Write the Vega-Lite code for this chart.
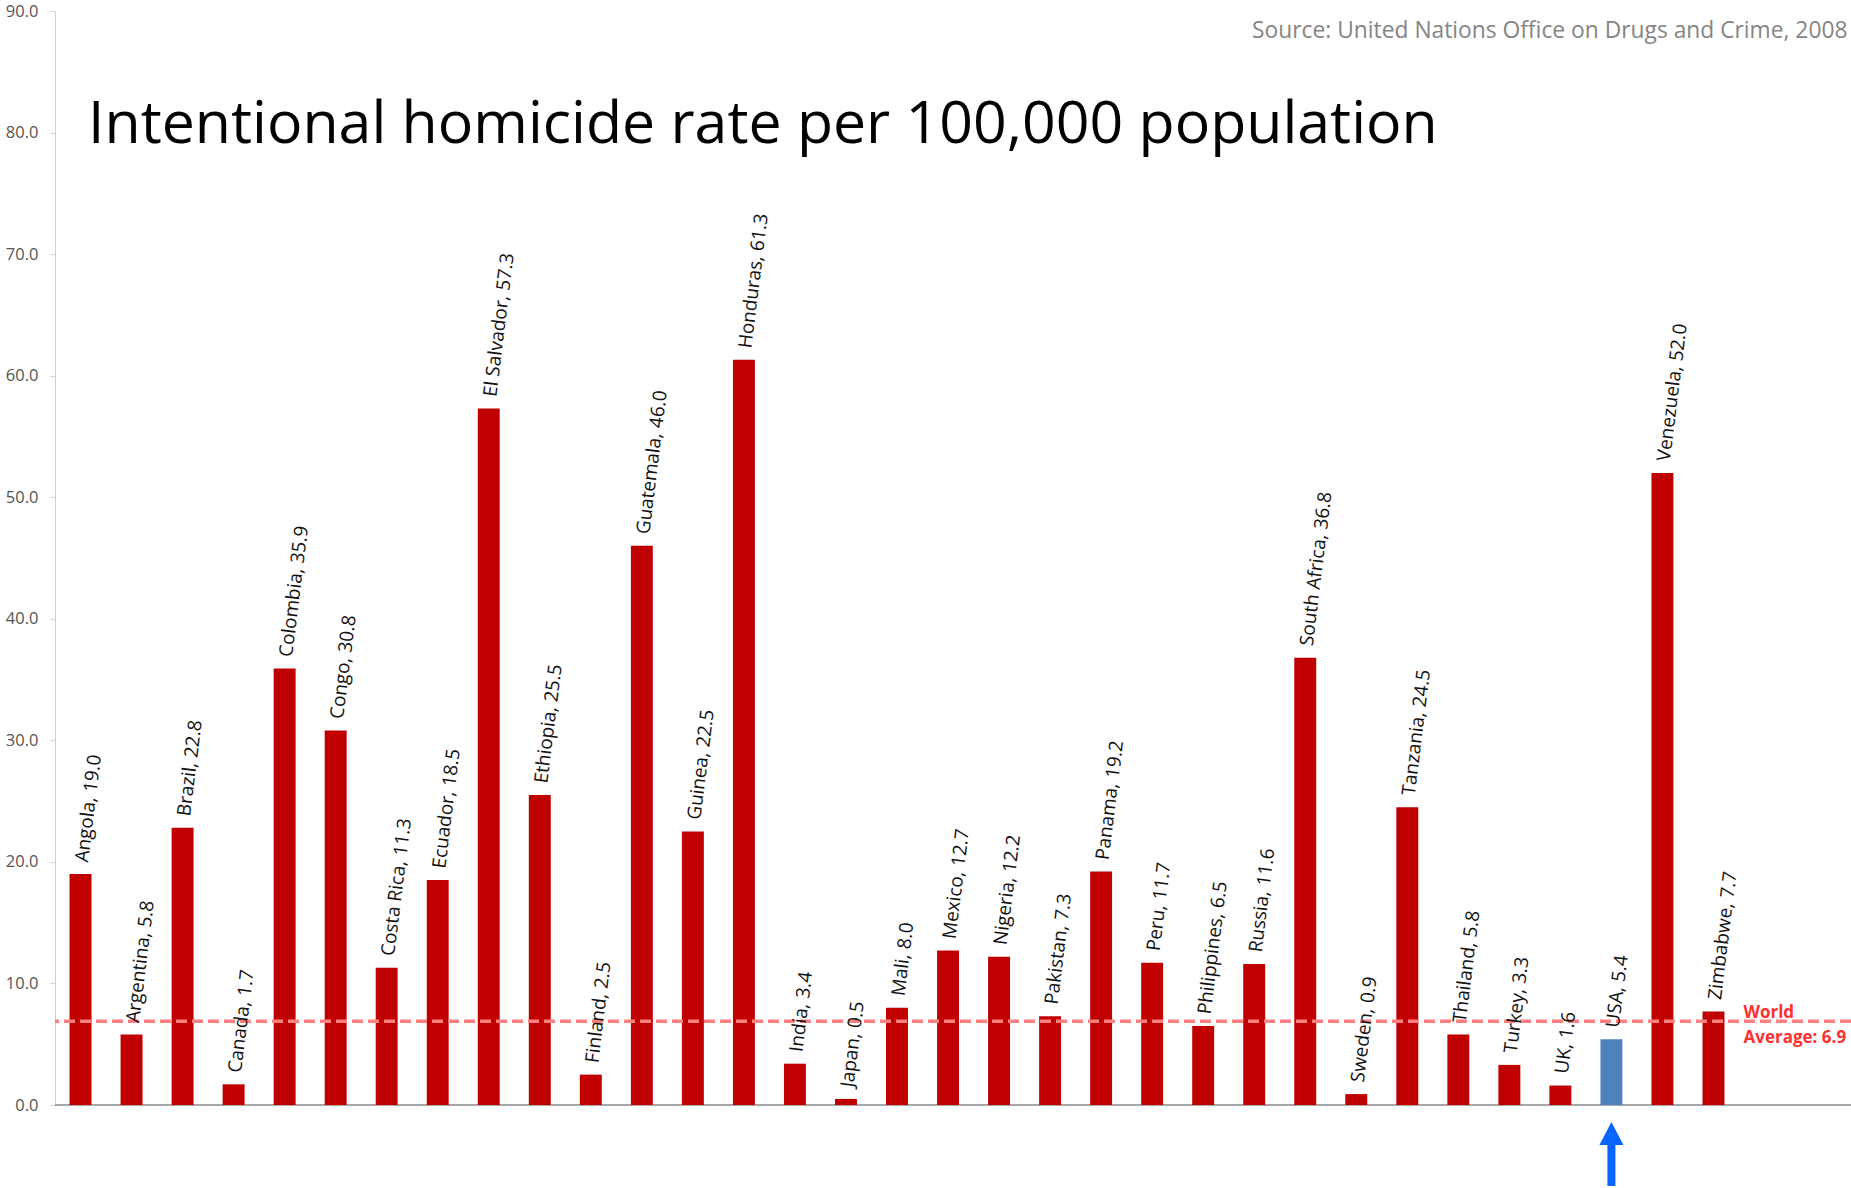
{
  "$schema": "https://vega.github.io/schema/vega-lite/v6.json",
  "width": 1796,
  "height": 1094,
  "autosize": {"type": "none"},
  "padding": {"left": 55, "top": 11, "right": 0, "bottom": 83},
  "background": "white",
  "config": {"view": {"stroke": null}, "font": "Open Sans"},
  "title": {
    "text": "Intentional homicide rate per 100,000 population",
    "font": "Open Sans",
    "fontSize": 59,
    "fontWeight": "normal",
    "color": "#000000",
    "anchor": "start",
    "frame": "group",
    "align": "left",
    "baseline": "alphabetic",
    "offset": 0,
    "dx": 33,
    "dy": 199
  },
  "data": {
    "values": [
      {"Country": "Angola", "Rate": 19.0, "Label": "Angola, 19.0"},
      {"Country": "Argentina", "Rate": 5.8, "Label": "Argentina, 5.8"},
      {"Country": "Brazil", "Rate": 22.8, "Label": "Brazil, 22.8"},
      {"Country": "Canada", "Rate": 1.7, "Label": "Canada, 1.7"},
      {"Country": "Colombia", "Rate": 35.9, "Label": "Colombia, 35.9"},
      {"Country": "Congo", "Rate": 30.8, "Label": "Congo, 30.8"},
      {"Country": "Costa Rica", "Rate": 11.3, "Label": "Costa Rica, 11.3"},
      {"Country": "Ecuador", "Rate": 18.5, "Label": "Ecuador, 18.5"},
      {"Country": "El Salvador", "Rate": 57.3, "Label": "El Salvador, 57.3"},
      {"Country": "Ethiopia", "Rate": 25.5, "Label": "Ethiopia, 25.5"},
      {"Country": "Finland", "Rate": 2.5, "Label": "Finland, 2.5"},
      {"Country": "Guatemala", "Rate": 46.0, "Label": "Guatemala, 46.0"},
      {"Country": "Guinea", "Rate": 22.5, "Label": "Guinea, 22.5"},
      {"Country": "Honduras", "Rate": 61.3, "Label": "Honduras, 61.3"},
      {"Country": "India", "Rate": 3.4, "Label": "India, 3.4"},
      {"Country": "Japan", "Rate": 0.5, "Label": "Japan, 0.5"},
      {"Country": "Mali", "Rate": 8.0, "Label": "Mali, 8.0"},
      {"Country": "Mexico", "Rate": 12.7, "Label": "Mexico, 12.7"},
      {"Country": "Nigeria", "Rate": 12.2, "Label": "Nigeria, 12.2"},
      {"Country": "Pakistan", "Rate": 7.3, "Label": "Pakistan, 7.3"},
      {"Country": "Panama", "Rate": 19.2, "Label": "Panama, 19.2"},
      {"Country": "Peru", "Rate": 11.7, "Label": "Peru, 11.7"},
      {"Country": "Philippines", "Rate": 6.5, "Label": "Philippines, 6.5"},
      {"Country": "Russia", "Rate": 11.6, "Label": "Russia, 11.6"},
      {"Country": "South Africa", "Rate": 36.8, "Label": "South Africa, 36.8"},
      {"Country": "Sweden", "Rate": 0.9, "Label": "Sweden, 0.9"},
      {"Country": "Tanzania", "Rate": 24.5, "Label": "Tanzania, 24.5"},
      {"Country": "Thailand", "Rate": 5.8, "Label": "Thailand, 5.8"},
      {"Country": "Turkey", "Rate": 3.3, "Label": "Turkey, 3.3"},
      {"Country": "UK", "Rate": 1.6, "Label": "UK, 1.6"},
      {"Country": "USA", "Rate": 5.4, "Label": "USA, 5.4"},
      {"Country": "Venezuela", "Rate": 52.0, "Label": "Venezuela, 52.0"},
      {"Country": "Zimbabwe", "Rate": 7.7, "Label": "Zimbabwe, 7.7"}
    ]
  },
  "layer": [
    {
      "data": {"values": [{}]},
      "mark": {"type": "rule", "color": "#8a8a8a", "strokeWidth": 1.5},
      "encoding": {"y": {"datum": 0}}
    },
    {
      "mark": {"type": "bar"},
      "encoding": {
        "x": {
          "field": "Country",
          "type": "nominal",
          "sort": null,
          "scale": {"range": [0, 1684], "paddingInner": 0.57, "paddingOuter": 0.285},
          "axis": {
            "orient": "top",
            "labels": false,
            "ticks": false,
            "domain": false,
            "grid": false,
            "title": "Source: United Nations Office on Drugs and Crime, 2008",
            "titleFont": "Open Sans",
            "titleFontSize": 22.8,
            "titleFontWeight": "normal",
            "titleColor": "#858585",
            "titleAlign": "right",
            "titleAnchor": "end",
            "titleBaseline": "alphabetic",
            "titleX": 1792,
            "titleY": 26
          }
        },
        "y": {
          "field": "Rate",
          "type": "quantitative",
          "scale": {"domain": [0, 90], "nice": false},
          "axis": {
            "title": null,
            "values": [0, 10, 20, 30, 40, 50, 60, 70, 80, 90],
            "format": ".1f",
            "labelFont": "Open Sans",
            "labelFontSize": 16.5,
            "labelColor": "#555555",
            "labelPadding": 12,
            "tickSize": 5,
            "tickColor": "#d0d0d0",
            "domainColor": "#d0d0d0",
            "gridColor": "#e3e3e3"
          }
        },
        "color": {
          "condition": {"test": "datum.Country === 'USA'", "value": "#4F81BD"},
          "value": "#C00000"
        }
      }
    },
    {
      "data": {"values": [{}]},
      "mark": {"type": "rule", "color": "#ff8080", "strokeWidth": 3.5, "strokeDash": [11, 5]},
      "encoding": {"y": {"datum": 6.9}}
    },
    {
      "mark": {
        "type": "text",
        "angle": 277,
        "align": "left",
        "baseline": "middle",
        "dx": 12,
        "font": "Open Sans",
        "fontSize": 19,
        "color": "#111111"
      },
      "encoding": {
        "x": {"field": "Country", "type": "nominal", "sort": null},
        "y": {"field": "Rate", "type": "quantitative"},
        "text": {"field": "Label"}
      }
    },
    {
      "data": {"values": [{}]},
      "mark": {
        "type": "text",
        "text": ["World", "Average: 6.9"],
        "align": "left",
        "baseline": "alphabetic",
        "dx": 30,
        "dy": -3,
        "lineHeight": 25,
        "font": "Open Sans",
        "fontSize": 17,
        "fontWeight": "bold",
        "color": "#ff3030"
      },
      "encoding": {
        "x": {"datum": "Zimbabwe", "type": "nominal"},
        "y": {"datum": 6.9, "type": "quantitative"}
      }
    },
    {
      "transform": [{"filter": "datum.Country === 'USA'"}],
      "mark": {
        "type": "point",
        "shape": "M0,-1L0.375,-0.28L0.125,-0.28L0.125,1L-0.125,1L-0.125,-0.28L-0.375,-0.28Z",
        "filled": true,
        "size": 4096,
        "opacity": 1,
        "color": "#0a64ff"
      },
      "encoding": {
        "x": {"field": "Country", "type": "nominal", "sort": null},
        "y": {"datum": -4.03, "type": "quantitative"}
      }
    }
  ]
}
